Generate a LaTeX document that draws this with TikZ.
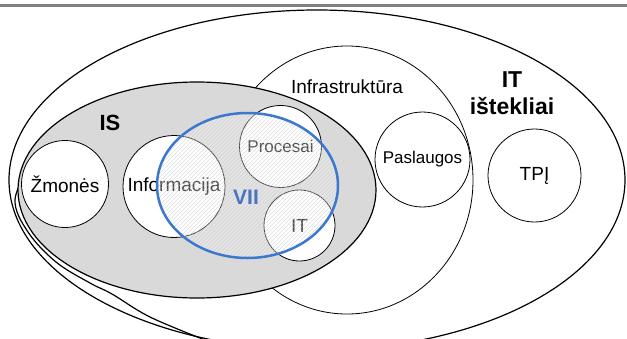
\documentclass[tikz,border=0pt]{standalone}
\usepackage{fontspec}
\setmainfont{Liberation Sans}

\definecolor{isgray}{RGB}{217,217,217}
\definecolor{viiblue}{RGB}{60,120,205}
\definecolor{viitext}{RGB}{72,116,192}

\tikzset{
    ring/.style={draw,
        circle,
        fill=white,
        inner sep=0pt,
        line width=0.8pt,
        font=\fontsize{19}{22}\selectfont},
    hatch/.style={black!25, line width=0.5pt, opacity=0.5}
}

\begin{document}
\begin{tikzpicture}[x=1pt, y=-1pt]

\useasboundingbox (0,0) rectangle (627,338);
\clip (0,0) rectangle (627,338);

% Top rule
\draw[gray, line width=3pt] (0,5) -- (627,5);

% IT istekliai
\draw[line width=1.2pt] (317,180) ellipse (308pt and 170pt);
\draw[line width=1.2pt] plot[smooth, tension=0.6] coordinates
    {(30,165) (15,200) (28,232) (56,262) (90,283) (112,294) (150,317) (205,340)};

% Infrastruktura
\draw[fill=white, line width=0.8pt] (347,180) ellipse (126pt and 134pt);
\node[font=\fontsize{19}{22}\selectfont] (infra) at (347,87) {Infrastruktūra};

% IS
\draw[fill=isgray, line width=1.2pt] (197,190) ellipse (179pt and 108pt);
\node[font=\bfseries\fontsize{22}{26}\selectfont] (is) at (110,123) {IS};

% Circles
\node[ring, minimum size=87pt] (zmones) at (65,184) {Žmonės};
\node[ring, minimum size=102pt] (info) at (174,186.5) {Informacija};
\node[ring,
    minimum size=82pt,
    font=\fontsize{17}{20}\selectfont] (procesai) at (280.5,146.5) {Procesai};
\node[ring, minimum size=71pt] (it) at (299.5,225.5) {IT};
\node[ring,
    minimum size=95pt,
    font=\fontsize{17}{20}\selectfont] (paslaugos) at (422.5,159.5) {Paslaugos};
\node[ring, minimum size=93pt] (tpi) at (534.5,175.5) {TPĮ};

% Resources label
\node[font=\bfseries\fontsize{23}{27}\selectfont,
    align=center] (itres) at (512,93) {IT\\ištekliai};

% VII hatch
\begin{scope}
    \clip (247.5,185.5) ellipse (90.5pt and 72.5pt);
    \fill[white, opacity=0.3] (150,100) rectangle (345,270);
    \foreach \s in {-20,-16,...,340}
        \draw[hatch] (\s,265) -- ++(170,-170);
\end{scope}

% VII outline
\draw[viiblue, line width=2.5pt] (247.5,185.5) ellipse (90.5pt and 72.5pt);
\node[viitext, font=\bfseries\fontsize{21}{24}\selectfont] (vii) at (246,197) {VII};

\end{tikzpicture}
\end{document}
